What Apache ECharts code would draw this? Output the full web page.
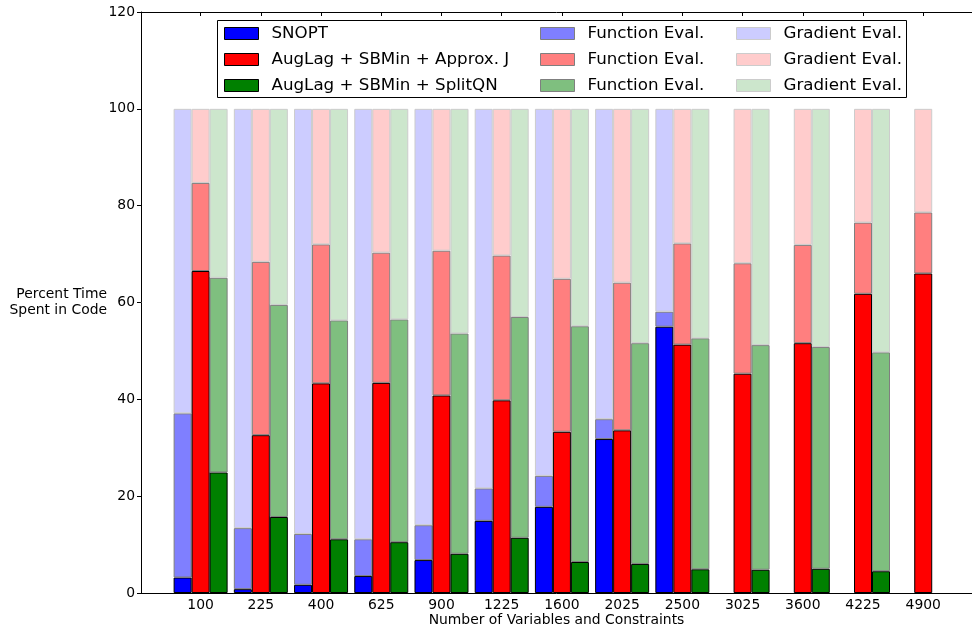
<!DOCTYPE html>
<html><head><meta charset="utf-8">
<script src="https://cdn.jsdelivr.net/npm/echarts@6/dist/echarts.min.js"></script>
<style>html,body{margin:0;padding:0;background:#fff}#c{width:972px;height:628px}</style>
</head><body><div id="c"></div><script>
const categories = ['100','225','400','625','900','1225','1600','2025','2500','3025','3600','4225','4900'];
const yTicks = [0,20,40,60,80,100,120];

const snoptCode = [3.2,0.8,1.7,3.5,6.8,14.9,17.8,31.8,55.0,null,null,null,null];
const snoptFunc = [33.9,12.6,10.5,7.6,7.2,6.7,6.4,4.1,3.1,null,null,null,null];
const snoptGrad = [62.9,86.6,87.8,88.9,86.0,78.4,75.8,64.1,41.9,null,null,null,null];

const approxCode = [66.5,32.6,43.3,43.4,40.8,39.8,33.3,33.6,51.3,45.3,51.6,61.8,66.0];
const approxFunc = [18.2,35.8,28.7,26.9,29.9,29.9,31.6,30.5,20.9,22.8,20.3,14.7,12.6];
const approxGrad = [15.3,31.6,28.0,29.7,29.3,30.3,35.1,35.9,27.8,31.9,28.1,23.5,21.4];

const splitCode = [24.9,15.7,11.1,10.5,8.1,11.4,6.4,6.0,4.9,4.8,5.0,4.5,null];
const splitFunc = [40.2,43.8,45.2,46.0,45.5,45.6,48.7,45.6,47.7,46.4,45.8,45.2,null];
const splitGrad = [34.9,40.5,43.7,43.5,46.4,43.0,44.9,48.4,47.4,48.8,49.2,50.3,null];

const methodNames = ['SNOPT','AugLag + SBMin + Approx. J','AugLag + SBMin + SplitQN'];
const segmentNames = ['Function Eval.','Gradient Eval.'];

const FONT = 'DejaVu Sans';
const methods = [
  {stack:'snopt', name:methodNames[0], vals:[snoptCode,snoptFunc,snoptGrad], colors:['#0000ff','#7f7fff','#ccccff']},
  {stack:'approx', name:methodNames[1], vals:[approxCode,approxFunc,approxGrad], colors:['#ff0000','#ff7f7f','#ffcccc']},
  {stack:'split', name:methodNames[2], vals:[splitCode,splitFunc,splitGrad], colors:['#008000','#7fbf7f','#cce6cc']}
];
const segBorders = ['#000000','#7f7f7f','#cccccc'];

// value first so that the stacked dimension is the percentage, category index second;
// missing entries are dropped (they are missing in all segments of a method alike)
function pts(arr){ return arr.map((v,i)=>[v, i]).filter(p => p[0] != null); }

const series = [];
const legendCols = [[],[],[]];
methods.forEach(m => m.vals.forEach((arr,k) => {
  const nm = k===0 ? m.name : segmentNames[k-1] + ' #' + m.stack;
  const style = {color:m.colors[k], borderColor:segBorders[k], borderWidth:1};
  series.push({
    type:'bar', name:nm, stack:m.stack, data:pts(arr), encode:{x:1, y:0},
    barWidth:18, barGap:'0%',
    itemStyle:style, emphasis:{disabled:true}, animation:false, xAxisIndex:0, yAxisIndex:0
  });
  legendCols[k].push({name:nm, icon:'rect', itemStyle:style});
}));

const legendLefts = [224, 540, 736];
const legends = legendCols.map((d,i)=>({
  data:d, orient:'vertical', left:legendLefts[i], top:25, padding:0,
  itemWidth:34, itemHeight:12, itemGap:9, selectedMode:false,
  formatter: n => n.split(' #')[0],
  textStyle:{fontFamily:FONT, fontSize:16.7, lineHeight:17, color:'#000', padding:[0,0,0,8]}
}));

const xCommon = {
  type:'value', min:-0.99, max:12.81,
  axisLine:{show:true, onZero:false, lineStyle:{color:'#000', width:1}},
  axisTick:{show:true, inside:true, length:4, customValues:categories.map((c,i)=>i), lineStyle:{color:'#000'}},
  splitLine:{show:false}
};

const option = {
  backgroundColor:'#fff',
  animation:false,
  textStyle:{fontFamily:FONT},
  grid:{left:141, right:0, top:12, bottom:35, containLabel:false, outerBoundsMode:'none'},
  legend: legends,
  graphic:[{type:'rect', shape:{x:217.5, y:20.5, width:689, height:77}, style:{fill:'#fff', stroke:'#000', lineWidth:1}, z:-1, silent:true}],
  xAxis:[
    Object.assign({}, xCommon, {
      position:'bottom',
      axisLabel:{show:true, customValues:categories.map((c,i)=>i), formatter:v=>categories[Math.round(v)] ?? '', fontSize:13.9, color:'#000', margin:5, fontFamily:FONT},
      name:'Number of Variables and Constraints', nameLocation:'middle', nameGap:20, nameMoveOverlap:false,
      nameTextStyle:{fontSize:13.9, color:'#000', fontFamily:FONT}
    }),
    Object.assign({}, xCommon, {position:'top', axisLabel:{show:false}})
  ],
  yAxis:[{
    type:'value', min:0, max:120, interval:20,
    axisLine:{show:true, onZero:false, lineStyle:{color:'#000', width:1}},
    axisTick:{show:true, inside:false, length:4, lineStyle:{color:'#000'}},
    axisLabel:{fontSize:13.9, color:'#000', margin:6, fontFamily:FONT, customValues:yTicks},
    splitLine:{show:false},
    name:'Percent Time\nSpent in Code', nameLocation:'middle', nameRotate:0, nameGap:34, nameMoveOverlap:false,
    nameTextStyle:{fontSize:13.9, lineHeight:15.5, color:'#000', fontFamily:FONT, align:'right', padding:[9,0,0,0]}
  }],
  series: series
};
const chart = echarts.init(document.getElementById('c'), null, {renderer:'canvas'});
chart.setOption(option);
</script></body></html>
